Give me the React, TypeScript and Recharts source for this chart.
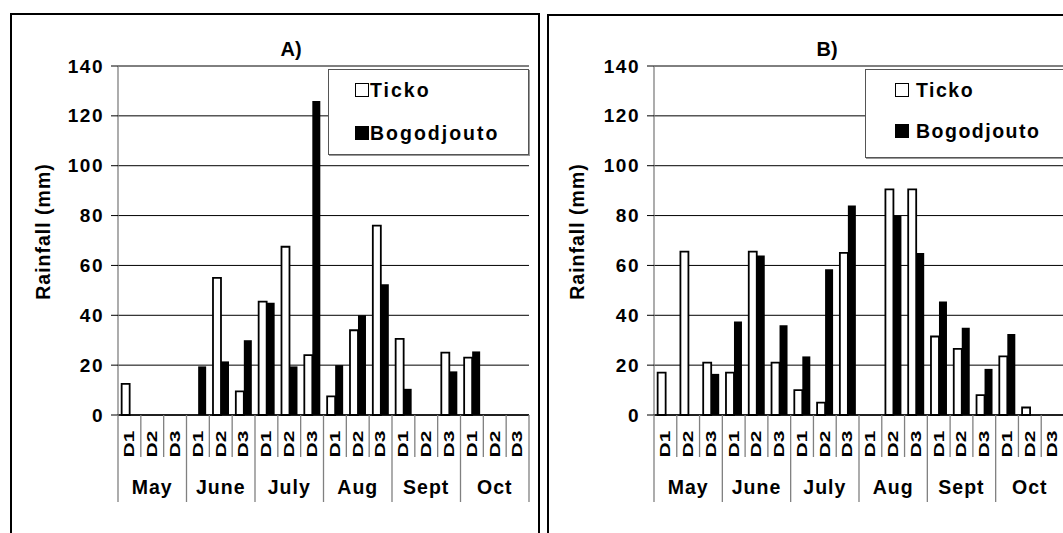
import React from "react";
import {
  BarChart,
  Bar,
  XAxis,
  YAxis,
  CartesianGrid,
  Legend,
} from "recharts";

const months = ["May", "June", "July", "Aug", "Sept", "Oct"];
const decades = ["D1", "D2", "D3"];
const yTicks = [0, 20, 40, 60, 80, 100, 120, 140];

// panel A (rainfall per decade, mm)
const tickoA = [12.5, 0, 0, 0, 55, 9.5, 45.5, 67.5, 24, 7.5, 34, 76, 30.5, 0, 25, 23, 0, 0];
const bogoA = [0, 0, 0, 19.5, 21.5, 30, 45, 19.5, 126, 20, 40, 52.5, 10.5, 0, 17.5, 25.5, 0, 0];

// panel B
const tickoB = [17, 65.5, 21, 17, 65.5, 21, 10, 5, 65, 0, 90.5, 90.5, 31.5, 26.5, 8, 23.5, 3, 0];
const bogoB = [0, 0, 16.5, 37.5, 64, 36, 23.5, 58.5, 84, 0, 80, 65, 45.5, 35, 18.5, 32.5, 0, 0];

const FONT = '"Liberation Sans", Arial, sans-serif';
const GRAY = "#808080";
const PLOT_TOP = 66;
const D_ROW = 42;
const M_ROW = 45;
const CHART_H = 533;

const buildRows = (ticko: number[], bogo: number[]) =>
  months.flatMap((m, mi) =>
    decades.map((d, di) => ({
      key: `${m}-${d}`,
      month: m,
      decade: d,
      Ticko: ticko[mi * 3 + di],
      Bogodjouto: bogo[mi * 3 + di],
    }))
  );

const CategoryTick = (props: any) => {
  const { x, y, index, band, rows } = props;
  const row = rows[index];
  const left = x - band / 2;
  const monthStart = index % 3 === 0;
  const last = index === rows.length - 1;
  return (
    <g>
      <line x1={left} x2={left} y1={y} y2={y + (monthStart ? D_ROW + M_ROW : D_ROW)} stroke={GRAY} strokeWidth={1.3} />
      {last && (
        <line x1={x + band / 2} x2={x + band / 2} y1={y} y2={y + D_ROW + M_ROW} stroke={GRAY} strokeWidth={1.3} />
      )}
      <text
        transform={`translate(${x}, ${y + 29}) rotate(-90) scale(1.45, 1)`}
        textAnchor="middle"
        dominantBaseline="central"
        fontFamily={FONT}
        fontWeight="bold"
        fontSize={14.5}
        fill="#000"
      >
        {row.decade}
      </text>
      {index % 3 === 1 && (
        <text
          x={x}
          y={y + 72}
          textAnchor="middle"
          dominantBaseline="central"
          fontFamily={FONT}
          fontWeight="bold"
          fontSize={19.5}
          letterSpacing={1}
          fill="#000"
        >
          {row.month}
        </text>
      )}
    </g>
  );
};

const ValueTick = (props: any) => {
  const { x, y, payload } = props;
  return (
    <text
      x={x + 1}
      y={y}
      textAnchor="end"
      dominantBaseline="central"
      fontFamily={FONT}
      fontWeight="bold"
      fontSize={19}
      letterSpacing={1.5}
      fill="#000"
    >
      {payload.value}
    </text>
  );
};

interface PanelProps {
  title: string;
  ticko: number[];
  bogo: number[];
  left: number;
  width: number;
  marginRight: number;
  yAxisWidth: number;
  labelX: number;
  titleX: number;
  legendBox: { left: number; top: number; width: number; height: number };
  markerLeft: number;
  textGap: number;
  legendSpacing: number;
  rowsY: [number, number];
  borderLeft: number;
  borderTop: number;
  borderWidth: number;
}

const Panel: React.FC<PanelProps> = (p) => {
  const rows = buildRows(p.ticko, p.bogo);
  const plotW = p.width - p.marginRight - p.yAxisWidth;
  const band = plotW / rows.length;

  const legendContent = () => (
    <div
      style={{
        position: "relative",
        width: p.legendBox.width,
        height: p.legendBox.height,
        boxSizing: "border-box",
        border: "1px solid #555",
        boxShadow: "1px 1px 0 #999",
        background: "#fff",
        fontFamily: FONT,
        fontWeight: "bold",
        fontSize: 19.5,
        letterSpacing: p.legendSpacing,
        color: "#000",
      }}
    >
      {[
        { name: "Ticko", fill: "#fff" },
        { name: "Bogodjouto", fill: "#000" },
      ].map((s, i) => (
        <div
          key={s.name}
          style={{
            position: "absolute",
            left: p.markerLeft,
            top: p.rowsY[i] - 12,
            height: 24,
            display: "flex",
            alignItems: "center",
            whiteSpace: "nowrap",
          }}
        >
          <span
            style={{
              display: "inline-block",
              width: 14,
              height: 14,
              boxSizing: "border-box",
              border: "1.5px solid #000",
              background: s.fill,
              marginRight: p.textGap,
            }}
          />
          {s.name}
        </div>
      ))}
    </div>
  );

  return (
    <>
      <div
        style={{
          position: "absolute",
          left: p.borderLeft,
          top: p.borderTop,
          width: p.borderWidth,
          height: 600,
          boxSizing: "border-box",
          border: "2.5px solid #000",
        }}
      />
      <div
        style={{
          position: "absolute",
          left: p.titleX - 30,
          top: 38,
          width: 60,
          textAlign: "center",
          fontFamily: FONT,
          fontWeight: "bold",
          fontSize: 20,
          lineHeight: "22px",
        }}
      >
        {p.title}
      </div>
      <div style={{ position: "absolute", left: p.left, top: 0 }}>
        <BarChart
          width={p.width}
          height={CHART_H}
          data={rows}
          margin={{ top: PLOT_TOP, right: p.marginRight, left: 0, bottom: CHART_H - PLOT_TOP - 349 - D_ROW - M_ROW }}
          barCategoryGap="16%"
          barGap={0}
        >
          <CartesianGrid vertical={false} stroke="#000" strokeWidth={1} />
          <XAxis
            dataKey="key"
            interval={0}
            height={D_ROW + M_ROW}
            tickLine={false}
            tickSize={0}
            tickMargin={0}
            axisLine={{ stroke: "#000", strokeWidth: 1.3 }}
            tick={(t: any) => <CategoryTick {...t} band={band} rows={rows} />}
          />
          <YAxis
            width={p.yAxisWidth}
            domain={[0, 140]}
            ticks={yTicks}
            interval={0}
            tickSize={7}
            tickMargin={8}
            tickLine={{ stroke: "#000" }}
            axisLine={{ stroke: GRAY, strokeWidth: 1.3 }}
            tick={<ValueTick />}
            label={{
              content: ({ viewBox }: any) => (
                <text
                  transform={`translate(${viewBox.x + p.labelX}, ${viewBox.y + viewBox.height / 2 - 9}) rotate(-90)`}
                  textAnchor="middle"
                  dominantBaseline="central"
                  fontFamily={FONT}
                  fontWeight="bold"
                  fontSize={19.5}
                  letterSpacing={1}
                  fill="#000"
                >
                  Rainfall (mm)
                </text>
              ),
            }}
          />
          <Legend
            layout="horizontal"
            verticalAlign="middle"
            align="center"
            wrapperStyle={{
              left: p.legendBox.left - p.left,
              top: p.legendBox.top,
              width: p.legendBox.width,
              height: p.legendBox.height,
            }}
            content={legendContent}
          />
          <Bar dataKey="Ticko" fill="#fff" stroke="#000" strokeWidth={1.8} isAnimationActive={false} />
          <Bar dataKey="Bogodjouto" fill="#000" isAnimationActive={false} />
        </BarChart>
      </div>
    </>
  );
};

export default function App() {
  return (
    <div
      style={{
        position: "absolute",
        left: 0,
        top: 0,
        width: 1063,
        height: 533,
        overflow: "hidden",
        background: "#fff",
      }}
    >
      <Panel
        title="A)"
        ticko={tickoA}
        bogo={bogoA}
        left={0}
        width={540}
        marginRight={11}
        yAxisWidth={118}
        labelX={43}
        titleX={291}
        legendBox={{ left: 328, top: 69, width: 201, height: 86 }}
        markerLeft={26}
        textGap={1}
        legendSpacing={2}
        rowsY={[20, 63]}
        borderLeft={10}
        borderTop={13}
        borderWidth={530}
      />
      <Panel
        title="B)"
        ticko={tickoB}
        bogo={bogoB}
        left={540}
        width={524}
        marginRight={0}
        yAxisWidth={114}
        labelX={37}
        titleX={827}
        legendBox={{ left: 865, top: 69, width: 220, height: 89 }}
        markerLeft={29}
        textGap={7}
        legendSpacing={1.5}
        rowsY={[20, 61]}
        borderLeft={547}
        borderTop={14}
        borderWidth={600}
      />
    </div>
  );
}
